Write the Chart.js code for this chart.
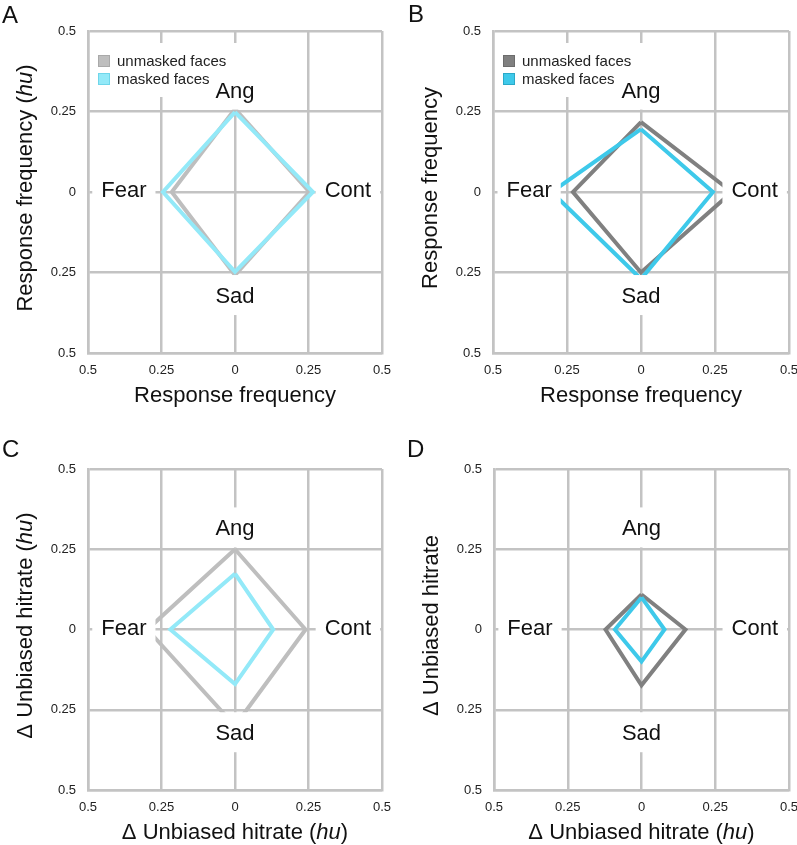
<!DOCTYPE html>
<html><head><meta charset="utf-8">
<script src="https://cdn.jsdelivr.net/npm/chart.js@4.4.1/dist/chart.umd.min.js"></script>
<style>
html,body{margin:0;padding:0;background:#fff;}
#wrap{position:relative;width:797px;height:845px;overflow:hidden;background:#fff;}
canvas{position:absolute;}
</style></head><body>
<div id="wrap">
<canvas id="cA" width="400" height="420" style="left:0px;top:0px"></canvas>
<canvas id="cB" width="397" height="420" style="left:400px;top:0px"></canvas>
<canvas id="cC" width="400" height="425" style="left:0px;top:420px"></canvas>
<canvas id="cD" width="397" height="425" style="left:400px;top:420px"></canvas>
</div>
<script>
// ---------- data ----------
const categories = ['Ang', 'Cont', 'Sad', 'Fear'];          // up, right, down, left
const tickValues = [-0.5, -0.25, 0, 0.25, 0.5];
const tickLabels = ['0.5', '0.25', '0', '0.25', '0.5'];
const seriesNames = ['unmasked faces', 'masked faces'];
// magnitudes along each direction: [Ang, Cont, Sad, Fear]
const panelA_unmasked = [0.258, 0.253, 0.258, 0.215];
const panelA_masked   = [0.248, 0.265, 0.248, 0.245];
const panelB_unmasked = [0.217, 0.307, 0.250, 0.230];
const panelB_masked   = [0.195, 0.243, 0.270, 0.302];
const panelC_unmasked = [0.250, 0.240, 0.300, 0.298];
const panelC_masked   = [0.174, 0.130, 0.170, 0.220];
const panelD_unmasked = [0.109, 0.149, 0.174, 0.122];
const panelD_masked   = [0.100, 0.078, 0.100, 0.090];

// ---------- styling ----------
const FONT = '"Liberation Sans", Arial, Helvetica, sans-serif';
const GRID = '#c3c3c3';
const lightGray = '#bebebe', lightCyan = '#93e9f8';
const darkGray = '#808080', cyan = '#3ec9ea';
const dirs = [[0, 1], [1, 0], [0, -1], [-1, 0]];
const labelPos = [[0, 0.318, 0], [0.384, 0, -3], [0, -0.32, 0], [-0.378, 0, -3]];

function toPoints(mags) {
  const pts = mags.map((m, i) => ({ x: dirs[i][0] * m, y: dirs[i][1] * m }));
  pts.push({ x: pts[0].x, y: pts[0].y });
  return pts;
}

const T_resp = [{ t: 'Response frequency' }];
const T_resp_hu = [{ t: 'Response frequency (' }, { t: 'hu', i: true }, { t: ')' }];
const T_unb = [{ t: '\u0394 Unbiased hitrate' }];
const T_unb_hu = [{ t: '\u0394 Unbiased hitrate (' }, { t: 'hu', i: true }, { t: ')' }];

const panels = [
  { id: 'cA', letter: 'A', lp: [2, 22.5], un: panelA_unmasked, ma: panelA_masked, col: [lightGray, lightCyan], sw: ['#a9a9a9', '#6fd6ea'], xt: T_resp, yt: T_resp_hu, legend: true, w: 400, h: 420, a: { l: 88, t: 31, r: 382, b: 353 } },
  { id: 'cB', letter: 'B', lp: [8, 22], un: panelB_unmasked, ma: panelB_masked, col: [darkGray, cyan], sw: ['#6c6c6c', '#2aa9c8'], xt: T_resp, yt: T_resp, legend: true, w: 397, h: 420, a: { l: 93, t: 31, r: 389, b: 353 } },
  { id: 'cC', letter: 'C', lp: [2, 37], un: panelC_unmasked, ma: panelC_masked, col: [lightGray, lightCyan], xt: T_unb_hu, yt: T_unb_hu, legend: false, w: 400, h: 425, a: { l: 88, t: 49, r: 382, b: 370 } },
  { id: 'cD', letter: 'D', lp: [7, 37], un: panelD_unmasked, ma: panelD_masked, col: [darkGray, cyan], xt: T_unb_hu, yt: T_unb, legend: false, w: 397, h: 425, a: { l: 94, t: 49, r: 389, b: 370 } }
];

function drawMixed(ctx, parts, size) {
  let total = 0; const ws = [];
  parts.forEach(p => { ctx.font = (p.i ? 'italic ' : '') + size + 'px ' + FONT; const w = ctx.measureText(p.t).width; ws.push(w); total += w; });
  let x = -total / 2;
  parts.forEach((p, k) => { ctx.font = (p.i ? 'italic ' : '') + size + 'px ' + FONT; ctx.fillText(p.t, x, 0); x += ws[k]; });
}

const decor = {
  id: 'decor',
  afterDatasetsDraw(chart, args, opts) {
    const ctx = chart.ctx, xs = chart.scales.x, ys = chart.scales.y, P = opts.panel;
    const L = chart.chartArea.left;
    ctx.save();
    ctx.textBaseline = 'alphabetic';
    // white backgrounds: legend and category labels
    ctx.font = '22px ' + FONT;
    const lab = categories.map((c, i) => {
      const px = xs.getPixelForValue(labelPos[i][0]);
      const py = ys.getPixelForValue(labelPos[i][1]) + labelPos[i][2];
      return { c, px, py, w: ctx.measureText(c).width + 18 };
    });
    ctx.fillStyle = '#fff';
    if (P.legend) ctx.fillRect(L + 4, 43, 149, 54);
    lab.forEach(o => ctx.fillRect(o.px - o.w / 2, o.py - 20, o.w, 40));
    // legend content
    if (P.legend) {
      ctx.font = '15px ' + FONT;
      ctx.textAlign = 'left';
      seriesNames.forEach((n, i) => {
        const y = 55 + i * 18;
        ctx.fillStyle = P.col[i];
        ctx.fillRect(L + 10, y, 12, 12);
        ctx.strokeStyle = P.sw[i];
        ctx.lineWidth = 1;
        ctx.strokeRect(L + 10.5, y + 0.5, 11, 11);
        ctx.fillStyle = '#222';
        ctx.fillText(n, L + 29, y + 11);
      });
    }
    // category label text
    ctx.font = '22px ' + FONT;
    ctx.textAlign = 'center';
    ctx.fillStyle = '#111';
    lab.forEach(o => ctx.fillText(o.c, o.px, o.py + 8));
    ctx.restore();
  },
  afterDraw(chart, args, opts) {
    const ctx = chart.ctx, P = opts.panel, A = chart.chartArea;
    ctx.save();
    ctx.fillStyle = '#111';
    ctx.textBaseline = 'alphabetic';
    // panel letter
    ctx.font = '24px ' + FONT;
    ctx.textAlign = 'left';
    ctx.fillText(P.letter, P.lp[0], P.lp[1]);
    // x title
    ctx.save();
    ctx.translate((A.left + A.right) / 2, A.bottom + 48.5);
    drawMixed(ctx, P.xt, 22);
    ctx.restore();
    // y title
    ctx.save();
    ctx.translate(A.left - 56, (A.top + A.bottom) / 2 - 4);
    ctx.rotate(-Math.PI / 2);
    drawMixed(ctx, P.yt, 22);
    ctx.restore();
    ctx.restore();
  }
};

panels.forEach(P => {
  const axisCommon = {
    type: 'linear', min: -0.5, max: 0.5,
    afterBuildTicks: s => { s.ticks = tickValues.map(v => ({ value: v })); },
    grid: { color: GRID, lineWidth: 2.5, drawTicks: false },
    border: { display: true, color: GRID, width: 2.5 },
    title: { display: false }
  };
  new Chart(document.getElementById(P.id), {
    type: 'scatter',
    data: {
      datasets: [
        { label: seriesNames[0], data: toPoints(P.un), borderColor: P.col[0], backgroundColor: P.col[0], showLine: true, borderWidth: 4, pointRadius: 0, fill: false, tension: 0, borderJoinStyle: 'miter', order: 1 },
        { label: seriesNames[1], data: toPoints(P.ma), borderColor: P.col[1], backgroundColor: P.col[1], showLine: true, borderWidth: 4, pointRadius: 0, fill: false, tension: 0, borderJoinStyle: 'miter', order: 0 }
      ]
    },
    options: {
      responsive: false, animation: false, events: [], devicePixelRatio: 1,
      layout: { padding: { left: 0, top: P.a.t, right: P.w - P.a.r, bottom: 0 } },
      plugins: { legend: { display: false }, tooltip: { enabled: false }, decor: { panel: P } },
      scales: {
        x: Object.assign({}, axisCommon, {
          position: 'bottom',
          ticks: { padding: 10, color: '#222', font: { family: FONT, size: 13 }, maxRotation: 0, callback: (v, i) => tickLabels[i] },
          afterFit: s => { s.height = P.h - P.a.b; s.paddingLeft = 0; s.paddingRight = 0; }
        }),
        y: Object.assign({}, axisCommon, {
          position: 'left',
          ticks: { padding: 12, color: '#222', font: { family: FONT, size: 13 }, callback: (v, i) => tickLabels[i] },
          afterFit: s => { s.width = P.a.l; s.paddingTop = 0; s.paddingBottom = 0; }
        })
      }
    },
    plugins: [decor]
  });
});
</script>
</body></html>
